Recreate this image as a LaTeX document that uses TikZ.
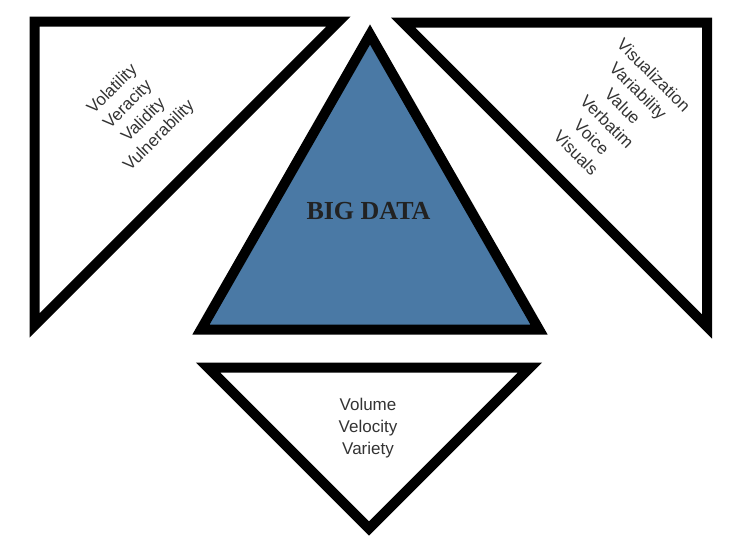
\documentclass[tikz,border=0pt]{standalone}
\usepackage{fontspec}
\setmainfont{Liberation Sans}
\newfontfamily\titleserif{Liberation Serif}
\usepackage{tikz}
\usetikzlibrary{positioning}
\definecolor{bigblue}{HTML}{4A79A5}
\definecolor{wordgray}{HTML}{333333}
\definecolor{titlegray}{HTML}{222222}
\tikzstyle{frame} = [draw, line width=10pt, line join=miter]
\tikzstyle{words} = [align=center, inner sep=0pt, text=wordgray, font=\fontsize{17}{22}\selectfont]
\tikzstyle{title} = [inner sep=0pt, text=titlegray, font=\titleserif\bfseries\fontsize{26}{30}\selectfont]

\begin{document}
\begin{tikzpicture}[x=1pt, y=-1pt]
    \useasboundingbox (0,0) rectangle (736,547);

    % We start by drawing the four triangles
    \draw [frame] (34.5,21.5) -- (338.5,21.5) -- (34.5,325.5) -- cycle;
    \draw [frame] (403,22.5) -- (707,22.5) -- (707,326.5) -- cycle;
    \draw [frame, fill=bigblue] (370,34.5) -- (539,329.5) -- (201,329.5) -- cycle;
    \draw [frame] (208,367.5) -- (530,367.5) -- (369,528.5) -- cycle;

    % Then the texts inside them
    \node [title] (bigdata) at (368.5,211) {BIG DATA};
    \node [words, rotate=45] (leftwords) at (136,113) {Volatility\\Veracity\\Validity\\Vulnerability};
    \node [words, rotate=-45] (rightwords) at (615,114) {Visualization\\Variability\\Value\\Verbatim\\Voice\\Visuals};
    \node [words] (bottomwords) at (368,428) {Volume\\Velocity\\Variety};
\end{tikzpicture}
\end{document}
